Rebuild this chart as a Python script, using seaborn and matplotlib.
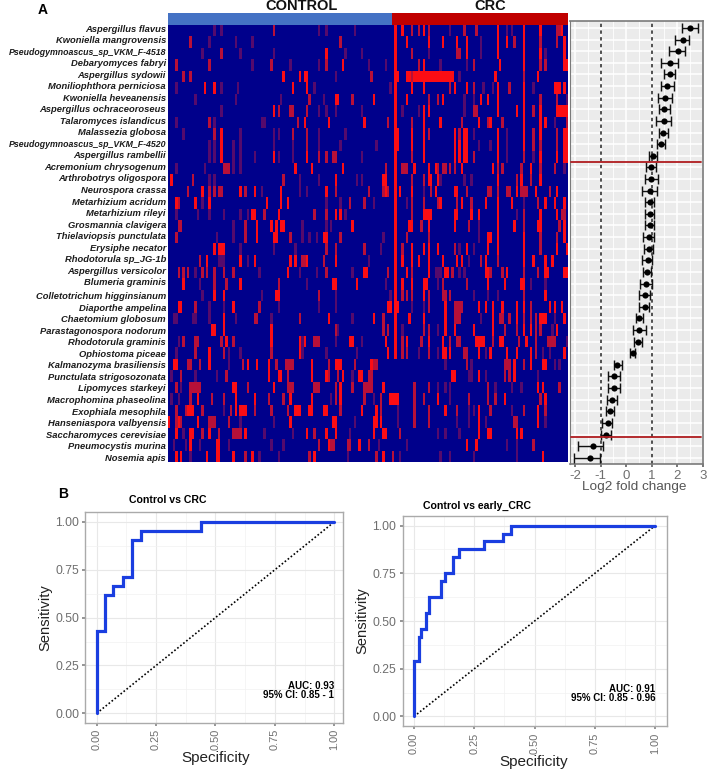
import numpy as np
import pandas as pd
import seaborn as sns
import matplotlib
matplotlib.use("Agg")
import matplotlib.pyplot as plt
from matplotlib.colors import ListedColormap

SPECIES = ["Aspergillus flavus","Kwoniella mangrovensis","Pseudogymnoascus_sp_VKM_F-4518","Debaryomyces fabryi",
 "Aspergillus sydowii","Moniliophthora perniciosa","Kwoniella heveanensis","Aspergillus ochraceoroseus",
 "Talaromyces islandicus","Malassezia globosa","Pseudogymnoascus_sp_VKM_F-4520","Aspergillus rambellii",
 "Acremonium chrysogenum","Arthrobotrys oligospora","Neurospora crassa","Metarhizium acridum","Metarhizium rileyi",
 "Grosmannia clavigera","Thielaviopsis punctulata","Erysiphe necator","Rhodotorula sp_JG-1b","Aspergillus versicolor",
 "Blumeria graminis","Colletotrichum higginsianum","Diaporthe ampelina","Chaetomium globosum",
 "Parastagonospora nodorum","Rhodotorula graminis","Ophiostoma piceae","Kalmanozyma brasiliensis",
 "Punctulata strigosozonata","Lipomyces starkeyi","Macrophomina phaseolina","Exophiala mesophila",
 "Hanseniaspora valbyensis","Saccharomyces cerevisiae","Pneumocystis murina","Nosemia apis"]

N_CONTROL = 94
N_CRC = 74

HEAT_BRIGHT = [
 [95,98,107,138,149,156,165],
 [95,100,109,115,121,125,138,142,149,166],
 [66,95,125,138,149,156,166],
 [73,95,107,139,149,166,167],
 [48,55,57,58,95,96,100,101,103,104,105,106,107,108,109,110,111,112,113,114,115,116,117,118,119,137,155],
 [15,19,52,58,95,102,107,120,125,138,149,162,163,164,166],
 [70,71,86,95,100,115,131,134,138,149],
 [44,95,107,109,138,146,149,156,163,164,165,166,167],
 [57,67,82,95,107,114,130,135,149,156,158],
 [22,95,96,102,107,120,124,125,138,149,156,166,167],
 [22,95,96,102,107,120,122,124,125,138,149,166,167],
 [22,44,58,95,107,120,122,124,125,138,156,163,166,167],
 [53,60,73,95,103,109,112,123,136,152],
 [1,70,90,91,95,109,110,113,138,148,156],
 [14,30,36,47,66,91,95,97,102,112,120,121,146,154,163],
 [3,11,17,41,47,50,95,114,123,133,138,144,158,162,166],
 [35,36,46,70,72,95,107,108,109,110,120,121,127,130,138,156,163],
 [37,43,45,47,48,77,95,101,102,109,120,138,145,155,156,166],
 [37,44,45,65,66,95,134,135,138,149,166],
 [19,21,22,23,95,102,107,109,113,125,134,138,149,163,167],
 [16,30,36,51,53,58,70,95,98,102,105,109,115,121,123,133,149,153,158,161],
 [50,82,83,95,100,109,116,117,133,134,142,158,159,166,167],
 [6,30,69,70,79,95,98,102,107,108,134,141,148,149],
 [19,23,45,46,95,107,158],
 [4,5,27,92,93,95,96,116,130,133,136,140,146,149,160,162,165],
 [23,67,86,95,101,107,116,136,146,156,157,158,166],
 [18,19,23,43,95,116,120,128,136,149,152,163],
 [24,43,55,57,76,77,91,95,100,109,115,129,130,131,132,139,140,150],
 [17,55,92,95,115,116,118,130,135,142,146,152,166],
 [2,3,17,33,37,42,60,70,71,72,85,145,152,157,158],
 [42,46,47,60,66,73,80,81,119,120,130,145],
 [27,28,44,72,90,155,157],
 [12,28,36,51,60,72,93,94,95,96,113,141,158],
 [8,9,10,28,30,31,32,53,54,55,59,60,65,66,81,87,116,130,155],
 [0,4,12,51,69,70,86,87,89,130,155],
 [3,9,10,17,32,58,66,70,86,90,91,130,134,135,146,148],
 [9,20,21,67,80,125,129],
 [3,5,16,20,21,27,35,61,90,157],
]
HEAT_MID = [
 [44,102,105,109,124,129,163,164],
 [9,72,145,156,163],
 [22,102,121,122],
 [3,17,43,66,105,128,156,158],
 [6,9,85,102,149],
 [118,128,143],
 [59,77,109,113,156,163],
 [46,51,52,58,128,129,153],
 [17,54,92,102,123,134,140,167],
 [19,52,58,109,122,153,163],
 [58,153,156,163],
 [63,66,69,70,102,128,149],
 [23,24,25,91,98,99,100,113,115,116,118,120,138,140,148,156,162],
 [10,48,102,107,146,152],
 [8,17,19,21,22,32,70,84,90,92,110,125,134,135,138,142,143,148,149,150,160],
 [4,76,82,102,107,113,121,127,155],
 [40,61,66,102,149,165,166],
 [4,5,32,106,126,149,164],
 [3,32,51,72,100,109,156,163],
 [66,70,82,98,120,156],
 [13,56,57,65,131,138],
 [4,6,8,14,16,19,23,27,66,92,102,119,135,140,149,155],
 [19,24,46,115,125],
 [63,98,100,102,109,115,116,118,149],
 [11,38,109,120,121,122,123,152],
 [36,37,55,90,120,121,122,139,140,143,149,152,154],
 [70,90,92,107,109,141,146,154,156],
 [6,11,12,22,27,61,62,63,98,106,118,121,122,136,147,154,159,160,161,162],
 [11,23,43,98,100,109,124,125,154],
 [8,9,13,31,45,49,50,51,52,67,78,86,87,125,141,142,143,149],
 [5,24,50,67,71,84,85,141,143],
 [3,9,10,11,12,13,33,50,51,52,61,62,63,70,77,82,83,84,85,103,109,134,164],
 [9,18,23,42,48,70,82,89,103,107,126,134,137,156],
 [3,7,14,26,36,43,50,72,89,103,109,121,135,149,158],
 [3,5,17,18,19,25,103,109,145,146],
 [14,21,27,28,29,30,61,97],
 [63,68,69,75,76,84,153],
 [32,59,87,94],
]
HEAT_DIM = [
 [19,22,63,66,78,118,142,144],
 [17,28,35,131],
 [14,30,44,74,81,109,131,158],
 [35,51,63,84,91,114,125],
 [70,122],
 [3,22,29,61,93,132,136,153],
 [11,28,47,65,124,128,167],
 [22,63,66,70,81,98,105,124],
 [3,19,39,40,162],
 [6,30,44,46,63,74,128,142],
 [17,19,27,30,44,52,63,72,87,130,135,142],
 [17,19,27,30,36,46,52,81,142,153],
 [3,15,27,30,166],
 [17,19,55,63,79,81,114,124,127],
 [39,55,58,107],
 [14,66,72,86,100,149],
 [3,12,17,23,30,33,74,146],
 [27,56,66,68,130],
 [20,27,56,59,62,90,130],
 [30,44,53,89,122,128],
 [21,22,23,33,84,126],
 [11,38,55,62,77,112,113,114,122,124],
 [13,58,91,113,152,158],
 [14,39,70,93,128,134,138],
 [17,23,46,63,70,102,107],
 [2,3,10,11,17,28,43,77,131,162],
 [71,98,113,161],
 [4,56,70,81,167],
 [3,25,30,56,66,79,105,113,133,157,160],
 [25,116,127,162,164],
 [1,11,20,77,126,127,133,155],
 [5,113,116,118,137,144,148],
 [1,4,68,86,118],
 [23,96,126,128,144],
 [30,44,78,96,121,126,133,158],
 [6,40,52,76,113,116,122],
 [2,7,13,25,43,48,88,100,142,146],
 [9,38,46,75,97,114,118,128,146],
]

LFC = [2.51,2.22,2.03,1.73,1.70,1.62,1.53,1.49,1.48,1.45,1.36,1.05,0.98,0.98,0.94,0.92,0.93,0.92,0.88,0.88,
       0.84,0.81,0.78,0.75,0.72,0.52,0.51,0.46,0.25,-0.34,-0.47,-0.47,-0.56,-0.63,-0.73,-0.78,-1.31,-1.41]
LFC_LO = [2.18,1.92,1.69,1.35,1.49,1.35,1.24,1.27,1.18,1.28,1.19,0.89,0.78,0.72,0.64,0.75,0.75,0.75,0.66,0.71,
          0.61,0.68,0.55,0.52,0.52,0.38,0.26,0.31,0.16,-0.48,-0.72,-0.72,-0.76,-0.78,-0.95,-0.99,-1.87,-2.04]
LFC_HI = [2.80,2.48,2.31,2.03,1.90,1.86,1.80,1.70,1.75,1.65,1.53,1.20,1.16,1.23,1.19,1.10,1.10,1.10,1.10,1.05,
          1.00,0.97,1.00,0.94,0.90,0.68,0.77,0.61,0.35,-0.17,-0.24,-0.24,-0.37,-0.47,-0.54,-0.60,-0.89,-1.02]
RED_LINES = [11.57, 35.2]
FC_TICKS = [-2,-1,0,1,2,3]

ROC1_SPEC = [0,0,0.035,0.035,0.07,0.07,0.11,0.11,0.148,0.148,0.185,0.185,0.44,0.44,1]
ROC1_SENS = [0,0.428,0.428,0.617,0.617,0.667,0.667,0.714,0.714,0.905,0.905,0.952,0.952,1,1]
ROC2_SPEC = [0,0,0.02,0.02,0.03,0.03,0.05,0.05,0.063,0.063,0.11,0.11,0.13,0.13,0.163,0.163,0.185,0.185,0.29,0.29,0.367,0.367,0.40,0.40,1]
ROC2_SENS = [0,0.292,0.292,0.417,0.417,0.458,0.458,0.542,0.542,0.625,0.625,0.708,0.708,0.75,0.75,0.833,0.833,0.875,0.875,0.917,0.917,0.958,0.958,1,1]
ROC_TICKS = [0,0.25,0.5,0.75,1.0]
ROC_TICKLABELS = ["0.00","0.25","0.50","0.75","1.00"]

W, H = 708, 770
sns.set_theme(style="white")
plt.rcParams["font.family"] = ["Liberation Sans", "DejaVu Sans"]
fig = plt.figure(figsize=(W/100, H/100), dpi=100, facecolor="white")

def axpx(l, t, r, b):
    return fig.add_axes([l/W, 1-b/H, (r-l)/W, (b-t)/H])

def txt(x, y, s, **kw):
    kw.setdefault("ha", "center"); kw.setdefault("va", "center")
    fig.text(x/W, 1-y/H, s, **kw)

# --- heatmap
n_col = N_CONTROL + N_CRC
mat = np.zeros((len(SPECIES), n_col))
for r in range(len(SPECIES)):
    mat[r, HEAT_DIM[r]] = 1
    mat[r, HEAT_MID[r]] = 2
    mat[r, HEAT_BRIGHT[r]] = 3
ax = axpx(168, 24.5, 568, 462.5)
cm = ListedColormap(["#00008b", "#550a6c", "#b81038", "#fb0d14"])
sns.heatmap(pd.DataFrame(mat, index=SPECIES), ax=ax, cmap=cm, vmin=0, vmax=3, cbar=False,
            xticklabels=False, yticklabels=True)
offs = [-0.1 if i < 23 else 0.12 for i in range(len(SPECIES))]
ax.set_yticks([i + 0.5 + offs[i] for i in range(len(SPECIES))])
ax.set_yticklabels(SPECIES, fontsize=6.75, fontweight="bold", fontstyle="italic", color="#1c1c1c", rotation=0)
for lab in ax.get_yticklabels():
    if len(lab.get_text()) > 28:
        lab.set_fontsize(6.3)
ax.tick_params(axis="y", length=0, pad=1.5)
ax.set_xlabel(""); ax.set_ylabel("")

# --- group strip
axs = axpx(168, 13, 568, 24.5)
strip = np.array([[0]*N_CONTROL + [1]*N_CRC])
sns.heatmap(strip, ax=axs, cmap=ListedColormap(["#4472c4", "#c00000"]), cbar=False,
            xticklabels=False, yticklabels=False)
txt(302, 6, "CONTROL", fontsize=10.5, fontweight="bold", color="#111111")
txt(490, 6, "CRC", fontsize=10.5, fontweight="bold", color="#111111")
txt(43, 10, "A", fontsize=10, fontweight="bold", color="black")
txt(63, 494, "B", fontsize=10, fontweight="bold", color="black")

# --- fold-change panel
axf = axpx(570, 21.3, 702.7, 464)
axf.set_facecolor("#ebebeb")
ypos = np.arange(len(SPECIES))
axf.set_xlim(-2.2, 3.0); axf.set_ylim(37.54, -0.58)
axf.set_xticks(FC_TICKS)
axf.set_xticks([-1.5,-0.5,0.5,1.5,2.5], minor=True)
axf.set_yticks(ypos)
axf.grid(True, which="major", color="white", lw=1.1)
axf.grid(True, which="minor", axis="x", color="white", lw=0.6)
axf.set_axisbelow(True)
axf.axvline(-1, color="#222222", ls=(0,(2.2,2.2)), lw=1.1)
axf.axvline(1, color="#222222", ls=(0,(2.2,2.2)), lw=1.1)
axf.errorbar(LFC, ypos, xerr=[np.array(LFC)-np.array(LFC_LO), np.array(LFC_HI)-np.array(LFC)],
             fmt="none", ecolor="#111111", elinewidth=1.05, capsize=3.4, capthick=1.05, zorder=3)
sns.scatterplot(x=LFC, y=ypos, ax=axf, color="black", s=20, linewidth=0, zorder=4)
for y in RED_LINES:
    axf.plot([-2.18, 2.93], [y, y], color="#b01c20", lw=1.3, zorder=5)
axf.set_yticklabels([])
axf.tick_params(axis="y", length=0)
axf.tick_params(axis="x", which="major", length=2.5, color="#666666", labelsize=9.5, labelcolor="#6e6e6e", pad=1.5, bottom=True)
axf.tick_params(axis="x", which="minor", length=0)
axf.set_xticklabels(["-2","-1","0","1","2","3"])
for s in axf.spines.values():
    s.set_color("#7a7a7a"); s.set_linewidth(1.2)
axf.spines["left"].set_linewidth(0.8)
txt(634, 487.5, "Log2 fold change", fontsize=9.7, color="#555555")

# --- ROC panels
def roc(rect, spec, sens, title, tx, ty, auc, ci, xlim, ylim, ylab_x, xlab_xy):
    a = axpx(*rect)
    a.set_xlim(*xlim); a.set_ylim(*ylim)
    a.set_xticks(ROC_TICKS); a.set_yticks(ROC_TICKS)
    a.set_xticks([0.125,0.375,0.625,0.875], minor=True)
    a.set_yticks([0.125,0.375,0.625,0.875], minor=True)
    a.grid(True, which="major", color="#e8e8e8", lw=0.8)
    a.grid(True, which="minor", color="#f2f2f2", lw=0.5)
    a.set_axisbelow(True)
    a.plot([0, 1], [0, 1], color="black", ls=(0,(1,1.3)), lw=1.2)
    sns.lineplot(x=spec, y=sens, ax=a, sort=False, estimator=None, color="#1a3ee0", lw=2.3,
                 solid_joinstyle="miter", zorder=4)
    a.set_xticklabels(ROC_TICKLABELS, rotation=90, fontsize=7.9, color="#6e6e6e")
    a.set_yticklabels(ROC_TICKLABELS, fontsize=8.8, color="#6e6e6e")
    a.tick_params(axis="both", which="major", length=2.5, color="#888888", pad=2, bottom=True, left=True)
    a.tick_params(axis="both", which="minor", length=0)
    for s in a.spines.values():
        s.set_color("#aaaaaa"); s.set_linewidth(1.0)
    a.text(1.0, 0.144, auc, ha="right", va="center", fontsize=7, fontweight="bold", color="black")
    a.text(1.0, 0.096, ci, ha="right", va="center", fontsize=7, fontweight="bold", color="black")
    txt(tx, ty, title, fontsize=7.6, fontweight="bold", color="black")
    txt(ylab_x, (rect[1]+rect[3])/2, "Sensitivity", fontsize=10.6, rotation=90, color="#222222")
    txt(xlab_xy[0], xlab_xy[1], "Specificity", fontsize=11, color="#222222")

roc((85.3,512.3,343.3,722.7), ROC1_SPEC, ROC1_SENS, "Control vs CRC", 168, 500,
    "AUC: 0.93", "95% CI: 0.85 - 1", (-0.048,1.038), (-0.049,1.05), 45, (216,758))
roc((402.7,516,667.3,726), ROC2_SPEC, ROC2_SENS, "Control vs early_CRC", 477, 506,
    "AUC: 0.91", "95% CI: 0.85 - 0.96", (-0.047,1.05), (-0.05,1.05), 362, (534,762))

fig.savefig("out.png", dpi=100)
